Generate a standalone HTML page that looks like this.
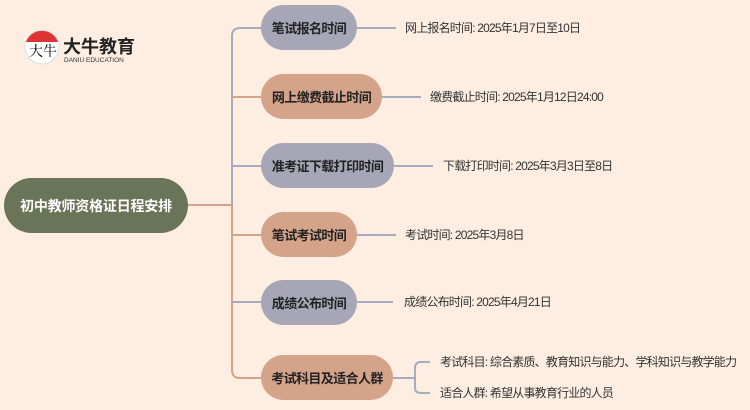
<!DOCTYPE html>
<html><head><meta charset="utf-8"><style>
body{margin:0;width:750px;height:410px;background:#fdeee1;overflow:hidden;position:relative;font-family:"Liberation Sans","Noto Sans CJK SC",sans-serif}
.n{position:absolute;height:45px;border-radius:23px;display:flex;align-items:center;justify-content:center;font-size:13px;letter-spacing:-0.6px;font-weight:bold;color:#222;white-space:nowrap}
.g{background:#a7a6b6}.t{background:#d4a389}
.x{position:absolute;font-size:12px;letter-spacing:-0.8px;color:#333;white-space:nowrap}
</style></head><body>
<svg width="750" height="410" style="position:absolute;left:0;top:0">
<g fill="none" stroke-width="2">
<path d="M188 205H232" stroke="#d4a389"/>
<path d="M261 28H240Q232 28 232 36V205" stroke="#a9a9c0"/>
<path d="M232 205V370Q232 378 240 378H261" stroke="#d4a389"/>
<path d="M232 97H261M232 235H261" stroke="#d4a389"/>
<path d="M232 166H261M232 302H261" stroke="#a9a9c0"/>
<path d="M357 28H396M382 97H421M394 166H433M357 235H396M357 302H393" stroke="#a9a9c0"/>
<path d="M393 378H415M430 362H421Q415 362 415 368V388Q415 393 421 393H430" stroke="#a9a9c0"/>
</g>
<circle cx="42" cy="47" r="17" fill="#fff" stroke="#ddd"/>
<path d="M26 42A17 17 0 0 1 58 42Z" fill="#d33"/>
<text x="29" y="56" font-size="14" font-family="Liberation Serif,Noto Serif CJK SC,serif">大牛</text>
<text x="63" y="53" font-size="18" font-weight="bold" fill="#222" font-family="Liberation Sans,Noto Sans CJK SC,sans-serif">大牛教育</text>
<text x="64" y="62" font-size="6.5" fill="#333" font-family="Liberation Sans,sans-serif">DANIU EDUCATION</text>
</svg>
<div class="n" style="left:4px;top:178px;width:184px;height:55px;border-radius:28px;background:#6a7459;color:#fff;font-size:14px;letter-spacing:-0.2px">初中教师资格证日程安排</div>
<div class="n g" style="left:261px;top:5px;width:96px">笔试报名时间</div>
<div class="n t" style="left:261px;top:74px;width:121px">网上缴费截止时间</div>
<div class="n g" style="left:261px;top:143px;width:133px">准考证下载打印时间</div>
<div class="n t" style="left:261px;top:212px;width:96px">笔试考试时间</div>
<div class="n g" style="left:261px;top:280px;width:96px">成绩公布时间</div>
<div class="n t" style="left:261px;top:355px;width:132px">考试科目及适合人群</div>
<div class="x" style="left:405px;top:19px">网上报名时间: 2025年1月7日至10日</div>
<div class="x" style="left:430px;top:88px">缴费截止时间: 2025年1月12日24:00</div>
<div class="x" style="left:443px;top:157px">下载打印时间: 2025年3月3日至8日</div>
<div class="x" style="left:405px;top:226px">考试时间: 2025年3月8日</div>
<div class="x" style="left:404px;top:293px">成绩公布时间: 2025年4月21日</div>
<div class="x" style="left:440px;top:353px">考试科目: 综合素质、教育知识与能力、学科知识与教学能力</div>
<div class="x" style="left:440px;top:384px">适合人群: 希望从事教育行业的人员</div>
</body></html>
